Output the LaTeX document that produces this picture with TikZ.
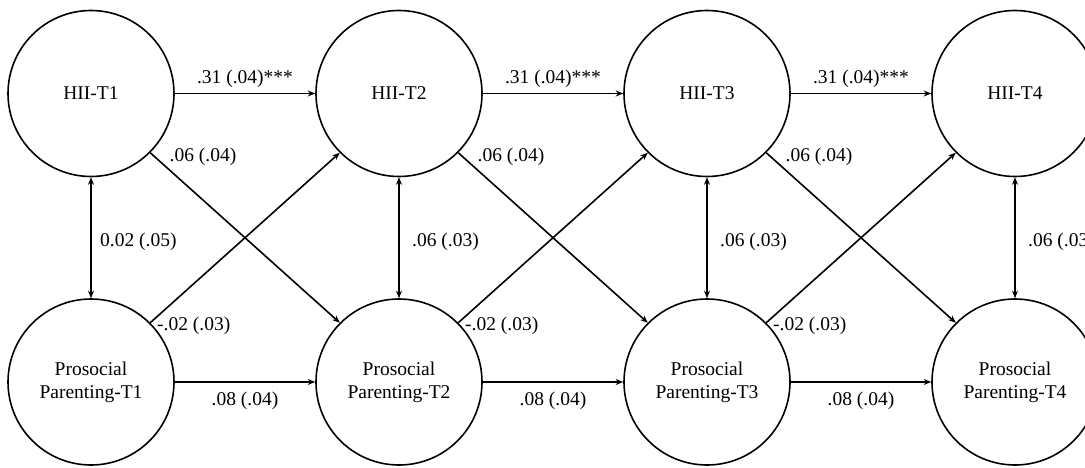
\documentclass[tikz,border=0pt]{standalone}
\usepackage{fontspec}
\setmainfont{Liberation Serif}
\usetikzlibrary{arrows.meta}
\begin{document}
\begin{tikzpicture}[x=1pt,y=-1pt,
  latent/.style={circle,draw,line width=1.6pt,minimum size=166pt,inner sep=0pt,
    align=center,font=\fontsize{19.5}{23}\selectfont},
  regpath/.style={line width=1.6pt,-{Stealth[length=7.5pt,width=6pt]}},
  covpath/.style={line width=1.6pt,{Stealth[length=7.5pt,width=6pt]}-{Stealth[length=7.5pt,width=6pt]}},
  est/.style={font=\fontsize{19.5}{23}\selectfont,inner sep=0pt}]
\useasboundingbox (0,0) rectangle (1085,468);
\clip (0,0) rectangle (1085,468);

% latent variables: HII (top row) and prosocial parenting (bottom row)
\foreach \i [evaluate=\i as \cx using 91+308*(\i-1)] in {1,...,4}{
  \node[latent] (h\i) at (\cx,93.5) {HII-T\i};
  \node[latent] (p\i) at (\cx,382) {Prosocial\\Parenting-T\i};
}

% within-wave covariances
\foreach \i [evaluate=\i as \cx using 91+308*(\i-1)] in {1,...,4}{
  \draw[covpath] (h\i) -- (p\i);
}
\node[est,anchor=west] (c1) at (100,242) {0.02 (.05)};
\foreach \i [evaluate=\i as \cx using 91+308*(\i-1)] in {2,3,4}{
  \node[est,anchor=west] (c\i) at (\cx+13,242) {.06 (.03)};
}

% autoregressive and cross-lagged paths
\foreach \i [evaluate=\i as \cx using 91+308*(\i-1), evaluate=\i as \j using int(\i+1)] in {1,2,3}{
  \draw[regpath] (h\i) -- (h\j);
  \draw[regpath] (p\i) -- (p\j);
  \draw[regpath] (h\i.-45) -- (p\j.135);
  \draw[regpath] (p\i.45) -- (h\j.-135);
  \node[est] (ah\i) at (\cx+154,79) {.31 (.04)***};
  \node[est] (ap\i) at (\cx+154,401) {.08 (.04)};
  \node[est] (xh\i) at (\cx+112,157) {.06 (.04)};
  \node[est,anchor=west] (xp\i) at (\cx+66,326) {-.02 (.03)};
}
\end{tikzpicture}
\end{document}
